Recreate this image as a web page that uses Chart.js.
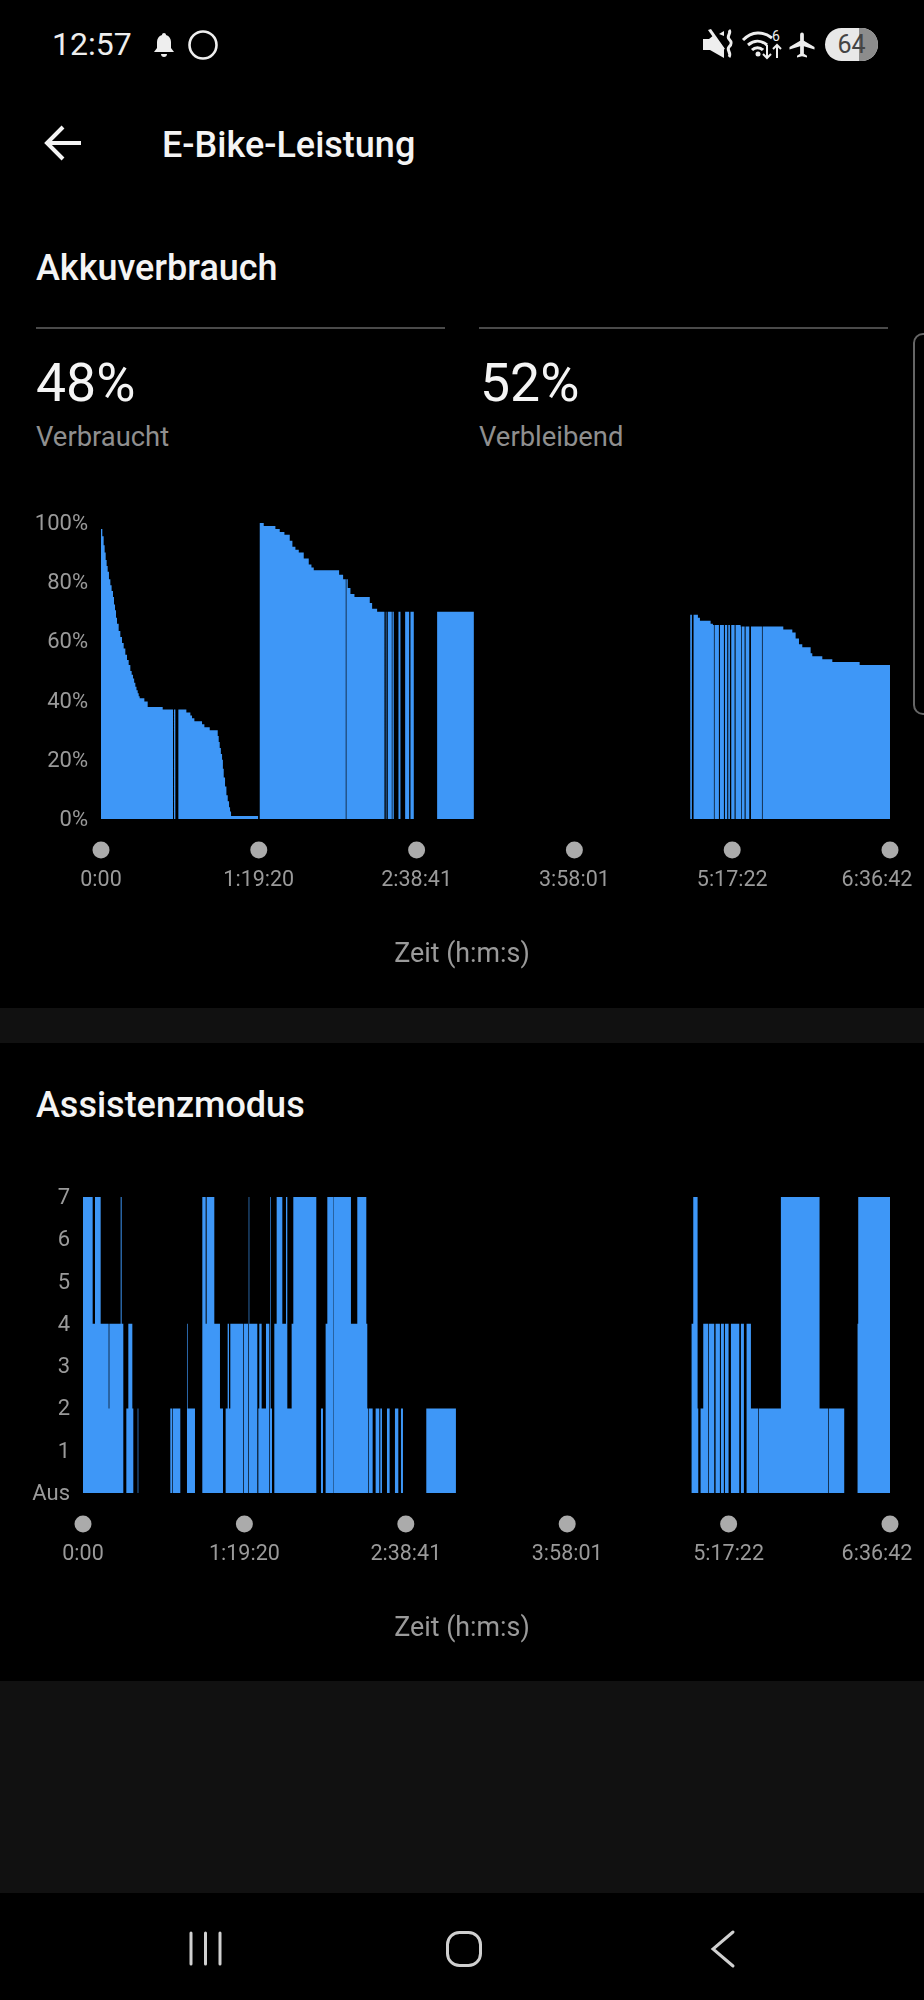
<!DOCTYPE html>
<html>
<head>
<meta charset="utf-8">
<title>E-Bike-Leistung</title>
<script src="https://cdn.jsdelivr.net/npm/chart.js@4"></script>
<style>
  html, body { margin: 0; padding: 0; background: #000; }
  #page { position: relative; width: 924px; height: 2000px; overflow: hidden; background: #000; color: #fff; font-family: Roboto, sans-serif; }
  #page > * { position: absolute; }
  .t { white-space: nowrap; line-height: 1; }
  .h { font-size: 36px; font-weight: 500; color: #f4f4f4; }
  .big { font-size: 53.5px; color: #f4f4f4; }
  .sub { font-size: 27.4px; color: #8f8f8f; }
  .rule { height: 2px; width: 409px; background: #4a4a4a; top: 327px; }
  .band { left: 0; width: 924px; background: #111; }
</style>
</head>
<body>
<div id="page">
  <div class="t" style="left:52px;top:28px;font-size:32px;color:#eee">12:57</div>
  <svg style="left:152px;top:32px" width="24" height="26" viewBox="0 0 24 26"><path fill="#eee" d="M12 1c1.2 0 2 .8 2 2 3.400 1 5 3.800 5 7v6l3 4H2l3-4v-6c0-3.200 1.600-6 5-7 0-1.200.8-2 2-2zM9 22h6c0 2-1.300 3-3 3s-3-1-3-3z"/></svg>
  <svg style="left:187px;top:29px" width="32" height="32"><circle cx="16" cy="16" r="13.500" fill="none" stroke="#eee" stroke-width="2.600"/></svg>

  <svg style="left:702px;top:28px" width="34" height="32" viewBox="0 0 34 32"><path fill="#eee" d="M1 11h6l5 -4 10 13v10l-14-8H1z"/><path fill="#eee" d="M6 2l3-1 14 20-3 1z"/><path fill="#eee" d="M22 8V3l-5 3z"/><path fill="none" stroke="#eee" stroke-width="3" d="M27 2c3 3-3 6 0 9s3 5 0 8 3 6 0 10"/></svg>
  <svg style="left:741px;top:28px" width="42" height="32" viewBox="0 0 42 32"><g fill="none" stroke="#eee" stroke-width="3"><path d="M2 12c9-9 20-9 29-2"/><path d="M7 17c6-5 13-5 19 0"/><path d="M11 22c3-3 8-3 11 0"/></g><circle cx="17" cy="26" r="2.500" fill="#eee"/><path stroke="#eee" stroke-width="2" fill="none" d="M26 17v13M22 26l4 4 4-4M36 30V17M32 21l4-4 4 4"/><text x="31" y="13" fill="#eee" font-size="14" font-family="Roboto">6</text></svg>
  <svg style="left:787px;top:30px" width="30" height="30" viewBox="0 0 24 24"><path fill="#eee" d="M22 15.500v-2l-8.500-5V3.500a1.500 1.500 0 0 0-3 0v5L2 13.500v2l8.500-2.500V19l-2.500 1.500V22l4-1 4 1v-1.500L13.500 19v-6z"/></svg>
  <div style="left:825px;top:28px;width:53px;height:33px;border-radius:17px;overflow:hidden;background:#e8e8e8">
    <div style="position:absolute;left:34px;top:0;width:19px;height:33px;background:#8c8c8c"></div>
    <div style="position:absolute;left:0;top:4px;width:53px;text-align:center;font-size:25px;line-height:1;color:#444">64</div>
  </div>

  <svg style="left:44px;top:124px" width="38" height="38" viewBox="0 0 38 38"><path fill="none" stroke="#f4f4f4" stroke-width="4" d="M37 19H4M19 3L3 19l16 16"/></svg>
  <div class="t h" style="left:162px;top:127px">E-Bike-Leistung</div>

  <div class="t h" style="left:36px;top:250px">Akkuverbrauch</div>
  <div class="rule" style="left:36px"></div>
  <div class="rule" style="left:479px"></div>
  <div class="t big" style="left:36px;top:356px">48%</div>
  <div class="t big" style="left:480px;top:356px">52%</div>
  <div class="t sub" style="left:36px;top:424px">Verbraucht</div>
  <div class="t sub" style="left:479px;top:424px">Verbleibend</div>
  <div style="left:913px;top:333px;width:20px;height:382px;border:2px solid #666;border-radius:10px;box-sizing:border-box"></div>

  <canvas id="batteryChart" width="924" height="473" style="left:0;top:496px"></canvas>

  <div class="band" style="top:1008px;height:35px"></div>

  <div class="t h" style="left:36px;top:1087px">Assistenzmodus</div>
  <canvas id="assistChart" width="924" height="473" style="left:0;top:1170px"></canvas>

  <div class="band" style="top:1681px;height:212px"></div>

  <svg style="left:180px;top:1925px" width="50" height="48"><path stroke="#d0d0d0" stroke-width="3" stroke-linecap="round" d="M11 8v31M25.500 8v31M40 8v31"/></svg>
  <svg style="left:440px;top:1925px" width="48" height="48"><rect x="7.500" y="7.500" width="33" height="33" rx="12" fill="none" stroke="#d0d0d0" stroke-width="3"/></svg>
  <svg style="left:705px;top:1925px" width="34" height="48"><path fill="none" stroke="#d0d0d0" stroke-width="3" stroke-linecap="round" d="M28 7L8 24l20 17"/></svg>
</div>

<script>
var tickSeconds = [0, 4760, 9521, 14281, 19042, 23802];
var tickLabels = ["0:00", "1:19:20", "2:38:41", "3:58:01", "5:17:22", "6:36:42"];
var axisTitle = "Zeit (h:m:s)";

var batteryTicks = [0, 20, 40, 60, 80, 100];
var assistTicks = ["Aus", "1", "2", "3", "4", "5", "6", "7"];

// seconds since start, 0 = no reading in that stretch
var batteryTime = [0, 40, 80, 110, 141, 170, 201, 240, 282, 320, 362, 392, 423, 453, 483, 533, 583, 634, 684, 734, 785, 835, 885, 925, 966, 1000, 1036, 1070, 1107, 1137, 1167, 1308, 1408, 1861, 2173,
    2203, 2243, 2334, 2575, 2696, 2746, 2817, 3048, 3119, 3280, 3521, 3551, 3581, 3616, 3652, 3677, 3702, 3742, 3783, 3823, 3863, 3893, 3923, 4738,
    4789, 4909, 5261, 5392, 5533, 5694, 5774, 5865, 5966, 6116, 6267, 6348, 6418, 7183, 7304, 7384, 7404, 7444, 7525, 7646, 8108, 8179, 8330, 8551,
    8591, 8611, 8652, 8772, 8792, 8833, 8974, 9034, 9175, 9296, 9336, 9436, 10140, 11247,
    17776, 17826, 17876, 18007, 18068, 18390, 18460, 18490, 18510, 18641, 18671, 18792, 18822, 18892, 18923, 18973, 19013, 19114, 19144, 19295, 19315, 19335, 19416, 19446, 19557, 19607,
    19939, 19959, 20583, 20855, 20955, 21056, 21156, 21408, 21458, 21760, 22062, 22886, 23802];
var batteryPercent = [98, 95.5, 92.5, 90, 87.5, 85.5, 83.5, 81, 79, 77, 75, 72.5, 70.5, 68, 66, 63.5, 61.5, 59.5, 57.6, 55.5, 53.7, 52, 50, 48.7, 47.5, 46, 44.7, 43.5, 42.5, 41.5, 40.8, 39.7, 37.8, 37, 0,
    37, 0, 37, 36, 35, 34, 33, 32, 31, 30, 28, 26, 24, 22, 20, 17, 14, 11, 8, 6, 4, 2.5, 1, 0,
    100, 99, 98, 97, 96, 94, 92, 91, 90, 88, 86, 85, 84, 82.5, 81, 0, 81, 78, 76, 75, 73, 71, 70, 0,
    70, 0, 70, 0, 70, 0, 70, 0, 70, 0, 70, 0, 70, 0,
    69, 0, 69, 68, 67, 66, 65.5, 0, 65.5, 0, 65.5, 0, 65.5, 0, 65.5, 0, 65.5, 0, 65.5, 65, 0, 65, 0, 65, 0, 65,
    0, 65, 64, 63, 61, 59, 58, 56, 55, 54, 53, 52, 52];

var assistTime = [0, 285, 354, 521, 757, 777, 1111, 1140, 1189, 1278, 1337, 1455, 1484, 1612, 1632,
    2575, 2625, 2644, 2870, 3067, 3087, 3303, 3519, 3618, 3647, 3873, 4040, 4129, 4207, 4266, 4306, 4345,
    4728, 4748, 4866, 4886, 4905, 5141, 5171, 5200, 5269, 5397, 5495, 5515, 5525, 5544, 5574, 5643, 5712, 5879, 5987, 6026, 6154, 6203,
    6881, 7019, 7078, 7156, 7206, 7382, 7392, 7903, 8090, 8356, 8385, 8415, 8434, 8543, 8631, 8739, 8769, 8818, 8966, 9044, 9201, 9300, 9378, 9437, 10125, 10999,
    17950, 17999, 18127, 18147, 18215, 18294, 18441, 18461, 18618, 18657, 18785, 18815, 18903, 18933, 19041, 19110, 19356, 19405, 19493, 19572, 19700, 19916, 19935, 20584, 21724, 21980, 21999, 22452, 22845, 22865, 23802];
var assistLevel = [7, 4, 7, 4, 2, 4, 7, 4, 0, 2, 4, 2, 0, 2, 0,
    2, 0, 2, 0, 4, 2, 0, 7, 4, 7, 4, 2, 0, 2, 4, 2, 4,
    0, 4, 0, 7, 4, 0, 2, 4, 2, 4, 0, 2, 7, 2, 0, 4, 7, 4, 7, 2, 4, 7,
    0, 2, 0, 4, 7, 0, 7, 4, 7, 4, 2, 0, 2, 0, 2, 0, 2, 0, 2, 0, 2, 0, 2, 0, 2, 0,
    4, 7, 2, 0, 2, 4, 0, 4, 0, 4, 0, 4, 0, 4, 0, 4, 0, 4, 0, 4, 2, 0, 2, 7, 2, 0, 2, 0, 4, 7, 7];

var BLUE = "#3e97f7";
var GREY = "#9a9a9a";

// round markers under the x axis, page-centred axis title, last label pulled back inside the screen
var tickDots = {
    id: "tickDots",
    beforeDraw: function (chart) {
        var items = chart.scales.x.getLabelItems(chart.chartArea);
        var last = items[items.length - 1];
        if (last && !last.moved) {
            last.options.translation[0] -= 13;
            last.moved = true;
            chart.scales.y.getLabelItems(chart.chartArea).forEach(function (item) {
                item.options.translation[1] += 1.5;
            });
        }
    },
    afterDraw: function (chart) {
        var ctx = chart.ctx;
        var xScale = chart.scales.x;
        ctx.save();
        ctx.fillStyle = "#ababab";
        tickSeconds.forEach(function (s) {
            ctx.beginPath();
            ctx.arc(xScale.getPixelForValue(s), chart.chartArea.bottom + 31, 8.5, 0, Math.PI * 2);
            ctx.fill();
        });
        ctx.fillStyle = GREY;
        ctx.font = "26.8px Roboto";
        ctx.textAlign = "center";
        ctx.textBaseline = "middle";
        ctx.fillText(axisTitle, chart.width / 2, chart.chartArea.bottom + 136);
        ctx.restore();
    }
};

function makeChart(id, times, values, yAxisWidth, yMax, yStep, yLabel) {
    var points = times.map(function (t, i) {
        return { x: t, y: values[i] };
    });
    return new Chart(document.getElementById(id), {
        type: "line",
        data: {
            datasets: [{
                data: points,
                stepped: "before",
                fill: "origin",
                backgroundColor: BLUE,
                borderWidth: 0,
                pointRadius: 0
            }]
        },
        options: {
            responsive: false,
            animation: false,
            devicePixelRatio: 1,
            layout: { padding: { top: 27, right: 34, left: 0, bottom: 0 } },
            plugins: { legend: { display: false }, tooltip: { enabled: false } },
            scales: {
                x: {
                    type: "linear",
                    min: 0,
                    max: 23802,
                    grid: { display: false, drawTicks: false },
                    border: { display: false },
                    afterBuildTicks: function (scale) {
                        scale.ticks = tickSeconds.map(function (s) { return { value: s }; });
                    },
                    afterFit: function (scale) {
                        scale.height = 150;
                        scale.paddingLeft = 0;
                        scale.paddingRight = 0;
                    },
                    ticks: {
                        autoSkip: false,
                        maxRotation: 0,
                        padding: 49,
                        color: GREY,
                        font: { family: "Roboto", size: 21.5 },
                        callback: function (v) { return tickLabels[tickSeconds.indexOf(v)]; }
                    }
                },
                y: {
                    min: 0,
                    max: yMax,
                    grid: { display: false, drawTicks: false },
                    border: { display: false },
                    afterFit: function (scale) {
                        scale.width = yAxisWidth;
                        scale.paddingTop = 0;
                        scale.paddingBottom = 0;
                    },
                    ticks: {
                        stepSize: yStep,
                        padding: 13,
                        color: GREY,
                        font: { family: "Roboto", size: 22 },
                        callback: yLabel
                    }
                }
            }
        },
        plugins: [tickDots]
    });
}

makeChart("batteryChart", batteryTime, batteryPercent, 101, batteryTicks[batteryTicks.length - 1], 20, function (v) {
    return v + "%";
});
makeChart("assistChart", assistTime, assistLevel, 83, assistTicks.length - 1, 1, function (v) {
    return assistTicks[v];
});
</script>
</body>
</html>
